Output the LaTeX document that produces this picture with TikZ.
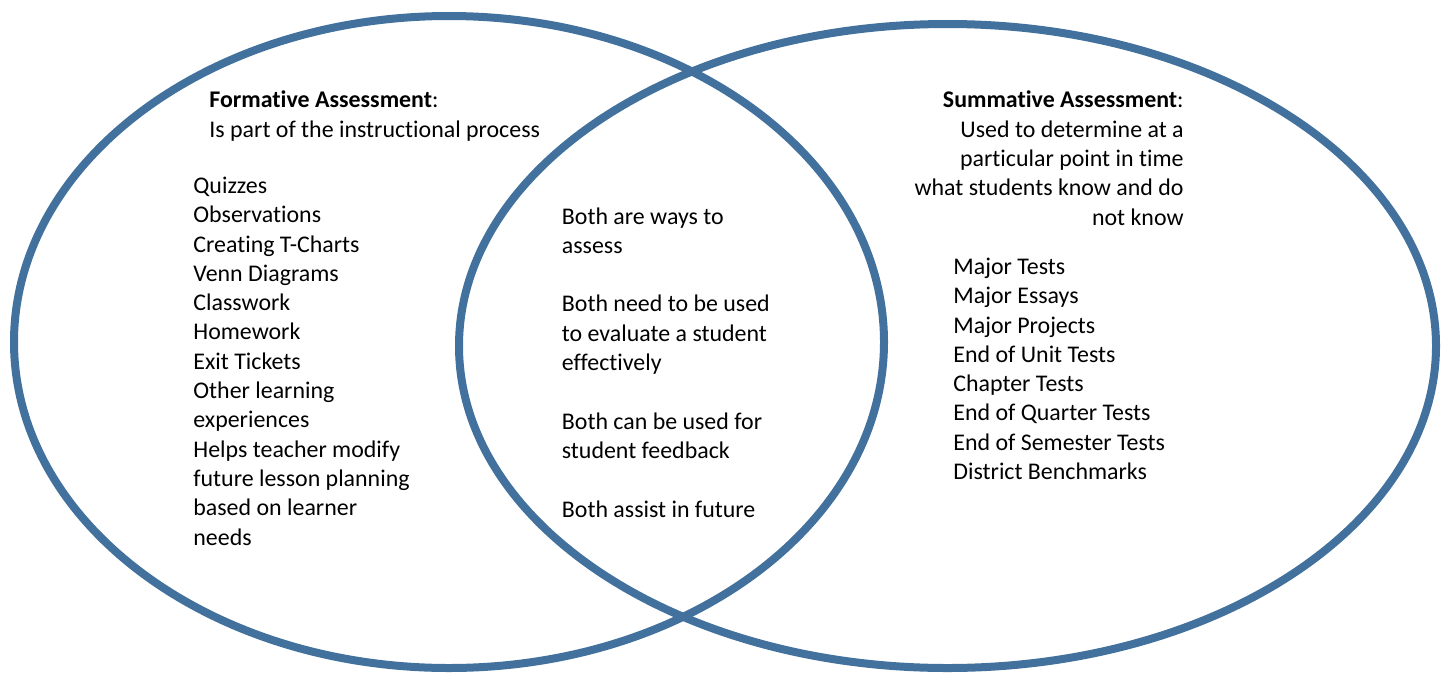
\documentclass[tikz,border=0pt]{standalone}
\usepackage{fontspec}
\setmainfont{Carlito}[Ligatures=NoCommon]
\definecolor{vennblue}{RGB}{65,113,156}
\tikzset{
  ring/.style={draw=vennblue, line width=4pt},
  txt/.style={inner sep=0pt, font=\fontsize{11.95}{14.65}\selectfont},
}

\begin{document}
\begin{tikzpicture}[x=0.5pt,y=-0.5pt]
\useasboundingbox (0,0) rectangle (1449,675);

% Two rings
\draw[ring] (449,342) ellipse [x radius=217.5pt, y radius=163pt];
\draw[ring] (947.5,346) ellipse [x radius=244.25pt, y radius=161pt];

% Formative side (placed by the baseline of the last line)
\node[txt, align=left, anchor=base west] (formhead) at (209,137)
  {\textbf{Formative Assessment}:\\Is part of the instructional process};
\node[txt, align=left, anchor=base west] (formlist) at (193,545)
  {Quizzes\\Observations\\Creating T-Charts\\Venn Diagrams\\Classwork\\Homework\\Exit Tickets\\Other learning\\experiences\\Helps teacher modify\\future lesson planning\\based on learner\\needs};

% Overlap
\node[txt, align=left, anchor=base west] (both) at (561.5,517)
  {Both are ways to\\assess\\[14.65pt]Both need to be used\\to evaluate a student\\effectively\\[14.65pt]Both can be used for\\student feedback\\[14.65pt]Both assist in future};

% Summative side
\node[txt, align=right, anchor=base east] (sumhead) at (1184,225)
  {\textbf{Summative Assessment}:\\Used to determine at a\\particular point in time\\what students know and do\\not know};
\node[txt, align=left, anchor=base west] (sumlist) at (953,479.5)
  {Major Tests\\Major Essays\\Major Projects\\End of Unit Tests\\Chapter Tests\\End of Quarter Tests\\End of Semester Tests\\District Benchmarks};
\end{tikzpicture}
\end{document}
